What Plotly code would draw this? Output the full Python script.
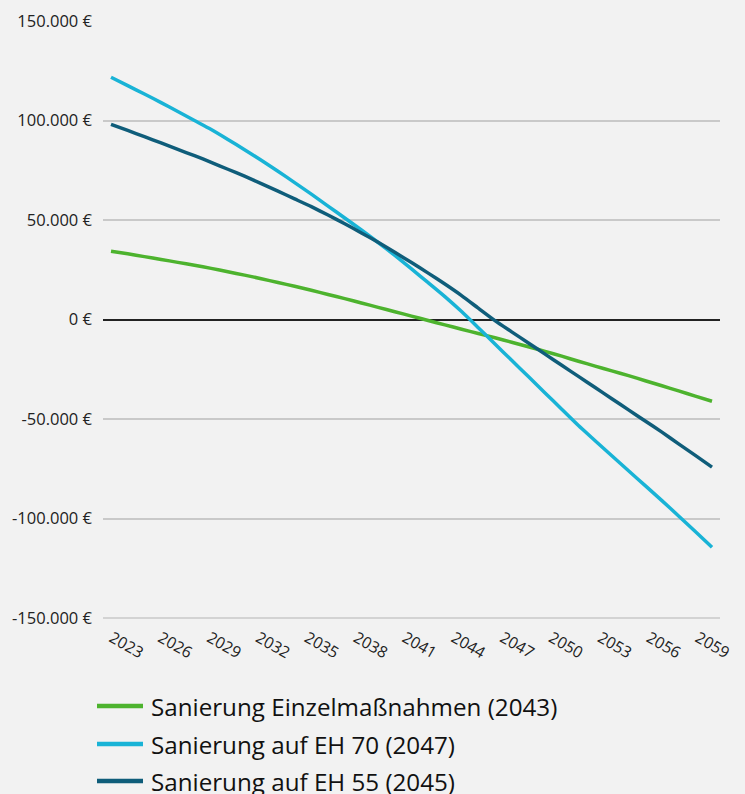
import plotly.graph_objects as go

years = list(range(2023, 2060))

einzel = [34300, 33000, 31600, 30200, 28700, 27300, 25700, 24000, 22300, 20500,
          18600, 16700, 14700, 12600, 10500, 8300, 6100, 3900, 1700, -500,
          -2700, -4900, -7000, -9200, -11400, -13700, -16000, -18400, -21000, -23400,
          -25800, -28200, -30800, -33300, -35900, -38500, -41100]

eh70 = [121700, 117500, 113300, 109000, 104500, 100000, 95500, 90500, 85300, 80000,
        74500, 68800, 63000, 57000, 51000, 45000, 38700, 32200, 25400, 18500,
        11500, 4000, -4100, -12300, -20500, -28700, -36900, -45100, -53300, -60900,
        -68500, -76000, -83500, -91000, -98700, -106500, -114400]

eh55 = [98100, 95000, 91900, 88700, 85500, 82300, 79000, 75500, 72000, 68300,
        64500, 60600, 56700, 52500, 48100, 43500, 38800, 33800, 28600, 23300,
        17800, 12000, 5700, -560, -6200, -11800, -17400, -23000, -28600, -34200,
        -39800, -45400, -51000, -56600, -62500, -68300, -74200]

series_names = ["Sanierung Einzelmaßnahmen (2043)",
                "Sanierung auf EH 70 (2047)",
                "Sanierung auf EH 55 (2045)"]
series_colors = ["#4db32e", "#19b3d6", "#0f5d7a"]

y_tickvals = [150000, 100000, 50000, 0, -50000, -100000, -150000]
y_ticktext = ["150.000 €", "100.000 €", "50.000 €", "0 €", "-50.000 €", "-100.000 €", "-150.000 €"]
x_tickvals = list(range(2023, 2060, 3))
x_ticktext = [str(v) for v in x_tickvals]

font_family = "Open Sans, sans-serif"
text_color = "#222222"
bg = "#f2f2f2"
grid_color = "#c9c9c9"

W, H = 745, 794
L, R, T, B = 103, 25, 20, 175
plot_w = W - L - R
plot_h = H - T - B
PLOT_BOTTOM = T + plot_h

fig = go.Figure()
for name, vals, col in zip(series_names, [einzel, eh70, eh55], series_colors):
    fig.add_trace(go.Scatter(x=years, y=vals, mode="lines", name=name,
                             line=dict(color=col, width=3.5, shape="spline", smoothing=0.6),
                             showlegend=False, hoverinfo="skip"))

# empty helper trace so the label axis (x2) is drawn
fig.add_trace(go.Scatter(x=[x_tickvals[0], x_tickvals[-1]], y=[None, None], xaxis="x2",
                         mode="lines", showlegend=False, hoverinfo="skip"))

# bottom gridline (plotly drops the grid line at the lower edge)
fig.add_shape(type="line", xref="paper", yref="y", x0=0, x1=1,
              y0=y_tickvals[-1], y1=y_tickvals[-1], layer="below",
              line=dict(color=grid_color, width=1.5))

# custom legend (longer key lines than plotly's native legend)
legend_rows_px = [706, 744, 781]   # px centres of legend rows
for name, col, py in zip(series_names, series_colors, legend_rows_px):
    yp = (PLOT_BOTTOM - py) / plot_h
    fig.add_shape(type="line", xref="paper", yref="paper",
                  x0=(97 - L) / plot_w, x1=(143 - L) / plot_w, y0=yp, y1=yp,
                  line=dict(color=col, width=4.5))
    fig.add_annotation(xref="paper", yref="paper", x=(149 - L) / plot_w, y=yp,
                       text=name, showarrow=False, xanchor="left", yanchor="middle",
                       font=dict(size=24.2, color="#111111", family=font_family))

fig.update_layout(
    width=W, height=H,
    paper_bgcolor=bg, plot_bgcolor=bg,
    margin=dict(l=L, r=R, t=T, b=B, autoexpand=False),
    font=dict(family=font_family, color=text_color, size=16),
    showlegend=False,
    xaxis=dict(range=[2022.52, 2059.48], showticklabels=False,
               showgrid=False, zeroline=False, showline=False, ticks="",
               automargin=False),
    # label axis: the reference's year labels sit on a slightly tighter spacing
    xaxis2=dict(overlaying="x", anchor="y", side="bottom",
                range=[2022.45, 2060.35], tickvals=x_tickvals, ticktext=x_ticktext,
                tickangle=30, showgrid=False, zeroline=False, showline=False, ticks="",
                ticklabeloverflow="allow", automargin=False, ticklabelstandoff=6,
                tickfont=dict(size=15.8, color="#222222")),
    yaxis=dict(range=[-150500, 150500], tickvals=y_tickvals, ticktext=y_ticktext,
               showgrid=True, gridcolor=grid_color, gridwidth=1.5,
               zeroline=True, zerolinecolor="#222222", zerolinewidth=2,
               showline=False, ticks="", ticklabelstandoff=10, automargin=False,
               tickfont=dict(size=16.5, color="#222222")),
)

fig.write_html("out.html", config={"displayModeBar": False},
               post_script="document.body.style.margin='0';document.body.style.overflow='hidden';")
